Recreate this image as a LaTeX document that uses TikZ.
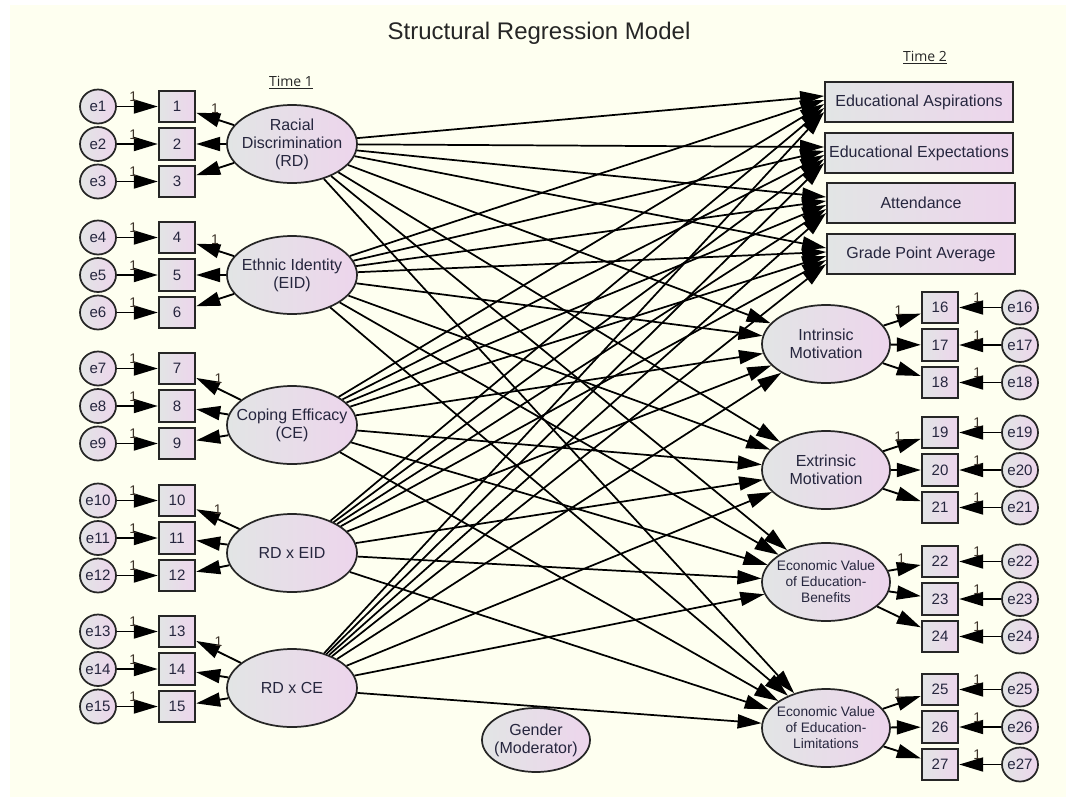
\documentclass[tikz,border=0pt]{standalone}
\usepackage{fontspec}
\setmainfont{Liberation Sans}
\newfontfamily\timefont{Open Sans}
\usetikzlibrary{shapes.geometric,arrows.meta,calc}

\definecolor{paper}{RGB}{254,255,240}
\definecolor{shadeL}{RGB}{226,229,229}
\definecolor{shadeR}{RGB}{237,213,236}
\definecolor{ink}{RGB}{38,38,62}
\definecolor{unitink}{RGB}{60,50,40}

\tikzset{
  amosfill/.style={draw=black!85, line width=1.3pt, left color=shadeL, right color=shadeR},
  latent/.style={amosfill, ellipse, inner sep=0pt, minimum width=97.5pt, minimum height=58.5pt},
  factor/.style={amosfill, ellipse, inner sep=0pt, minimum width=96pt, minimum height=58.5pt},
  errterm/.style={amosfill, ellipse, inner sep=0pt, minimum width=27pt, minimum height=25.5pt,
    font=\fontsize{11.3}{12}\selectfont, text=ink},
  item/.style={amosfill, rectangle, inner sep=0pt, minimum width=27.5pt, minimum height=23.5pt,
    font=\fontsize{11.3}{12}\selectfont, text=ink},
  outcome/.style={amosfill, rectangle, inner sep=0pt, minimum width=141pt, minimum height=30pt,
    font=\fontsize{12}{13.5}\selectfont, text=ink},
  ltext/.style={align=center, inner sep=0pt, text=ink, font=\fontsize{12}{13.5}\selectfont},
  stext/.style={align=center, inner sep=0pt, text=ink, font=\fontsize{10.3}{12}\selectfont},
  loadarrow/.style={line width=1.4pt, -{Triangle[length=18pt,width=10.5pt]}},
  patharrow/.style={line width=1.3pt, -{Triangle[length=18pt,width=10.5pt]}},
  unit/.style={font=\fontsize{10.5}{11}\selectfont, text=unitink, inner sep=1pt},
  timelabel/.style={font=\timefont\fontsize{10.5}{12}\selectfont, text=black!85},
}

\begin{document}
\begin{tikzpicture}[x=0.75pt, y=-0.75pt]
% page and canvas
\path[fill=white, use as bounding box] (0,0) rectangle (1071,804);
\fill[paper] (10,5) rectangle (1066,797);

\node[font=\fontsize{18}{20}\selectfont, text=black!85] (title) at (539,33) {Structural Regression Model};
\node[timelabel] (time1) at (291,83) {\underline{Time 1}};
\node[timelabel] (time2) at (925,58) {\underline{Time 2}};

% Time 1 indicators and their error terms
\foreach \g/\c in {0/144,1/275,2/406,3/538,4/669} {
  \foreach \k in {1,2,3} {
    \pgfmathtruncatemacro\n{3*\g+\k}
    \node[item] (b\n) at (177, \c+37.5*\k-75) {\n};
    \node[errterm] (e\n) at (98, \c+37.5*\k-75) {e\n};
    \draw[loadarrow] (e\n) -- (b\n) node[unit, pos=0.4, above=2pt] {1};
  }
}

% Time 2 indicators and their error terms
\foreach \g/\c in {5/345,6/470,7/599,8/727} {
  \foreach \k in {1,2,3} {
    \pgfmathtruncatemacro\n{3*\g+\k}
    \node[item] (b\n) at (940, \c+37.5*\k-75) {\n};
    \node[errterm] (e\n) at (1020, \c+37.5*\k-75) {e\n};
    \draw[loadarrow] (e\n) -- (b\n) node[unit, pos=0.57, above=2pt] {1};
  }
}

% Time 1 constructs
\node[latent, label={[ltext]center:Racial\\Discrimination\\(RD)}] (rd) at (292,144) {};
\node[latent, label={[ltext]center:Ethnic Identity\\(EID)}] (eid) at (292,275) {};
\node[latent, label={[ltext]center:Coping Efficacy\\(CE)}] (ce) at (292,425) {};
\node[latent, label={[ltext]center:RD x EID}] (rdeid) at (292,553) {};
\node[latent, label={[ltext]center:RD x CE}] (rdce) at (292,688) {};
\node[amosfill, ellipse, inner sep=0pt, minimum width=81pt, minimum height=48pt,
  label={[ltext]center:Gender\\(Moderator)}] (gender) at (536,740) {};

% Time 2 outcomes
\node[outcome] (ea)  at (919,102) {Educational Aspirations};
\node[outcome] (ee)  at (919,153) {Educational Expectations};
\node[outcome] (att) at (921,203) {Attendance};
\node[outcome] (gpa) at (921,254) {Grade Point Average};
\node[factor, label={[ltext]center:Intrinsic\\Motivation}] (im) at (826,344) {};
\node[factor, label={[ltext]center:Extrinsic\\Motivation}] (em) at (826,470) {};
\node[factor, label={[stext]center:Economic Value\\of Education-\\Benefits}] (evb) at (826,582) {};
\node[factor, label={[stext]center:Economic Value\\of Education-\\Limitations}] (evl) at (826,728) {};

% measurement paths, Time 1
\foreach \s/\a in {rd/1,eid/4,ce/7,rdeid/10,rdce/13} {
  \pgfmathtruncatemacro\bb{\a+1}
  \pgfmathtruncatemacro\bc{\a+2}
  \draw[loadarrow] (\s) -- (b\a) node[unit, midway, above=2pt] {1};
  \draw[loadarrow] (\s) -- (b\bb);
  \draw[loadarrow] (\s) -- (b\bc);
}

% measurement paths, Time 2
\foreach \s/\a in {im/16,em/19,evb/22,evl/25} {
  \pgfmathtruncatemacro\bb{\a+1}
  \pgfmathtruncatemacro\bc{\a+2}
  \draw[loadarrow] (\s) -- (b\a) node[unit, pos=0.4, above=2pt] {1};
  \draw[loadarrow] (\s) -- (b\bb);
  \draw[loadarrow] (\s) -- (b\bc);
}

% structural paths
\foreach \s/\o in {rd/-6,eid/-2,ce/2,rdeid/6,rdce/10} {
  \foreach \t in {ea,ee,att,gpa}
    \draw[patharrow] (\s) -- ($(\t.west)+(0,\o)$);
  \foreach \t in {im,em,evb,evl}
    \draw[patharrow] (\s) -- (\t);
}
\end{tikzpicture}
\end{document}
